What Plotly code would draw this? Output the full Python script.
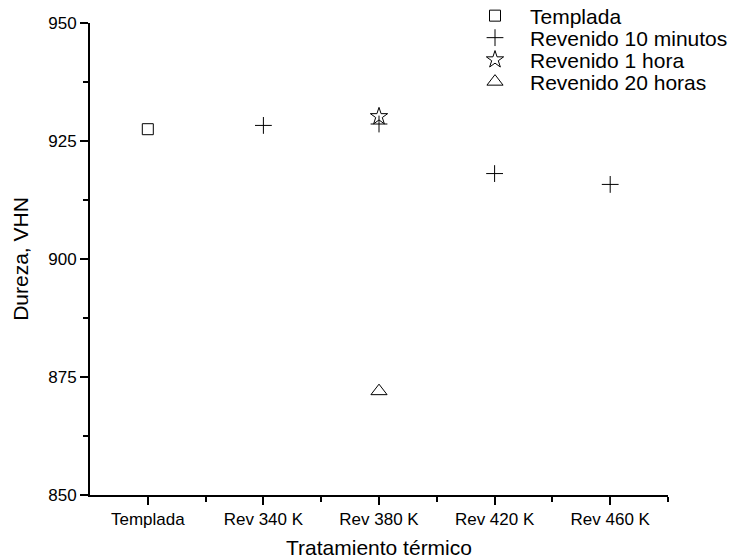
import plotly.graph_objects as go

categories = ["Templada", "Rev 340 K", "Rev 380 K", "Rev 420 K", "Rev 460 K"]
positions = [1, 2, 3, 4, 5]

templada_x = ["Templada"]
templada_y = [927.5]

rev10_x = ["Rev 340 K", "Rev 380 K", "Rev 420 K", "Rev 460 K"]
rev10_y = [928.3, 928.6, 918.1, 915.8]

rev1h_x = ["Rev 380 K"]
rev1h_y = [930.2]

rev20h_x = ["Rev 380 K"]
rev20h_y = [872.0]

pos = dict(zip(categories, positions))
font = "Liberation Sans, Arial, sans-serif"

fig = go.Figure()

series = [
    (templada_x, templada_y, "Templada", "square-open", 11, "legend"),
    (rev10_x, rev10_y, "Revenido 10 minutos", "cross-thin-open", 12, "legend2"),
    (rev1h_x, rev1h_y, "Revenido 1 hora", "star-open", 13, "legend3"),
    (rev20h_x, rev20h_y, "Revenido 20 horas", "triangle-up-open", 14, "legend4"),
]
for xs, ys, name, symbol, size, leg in series:
    fig.add_trace(go.Scatter(
        x=[pos[c] for c in xs], y=ys, mode="markers", name=name, legend=leg,
        marker=dict(symbol=symbol, size=size, color="black",
                    line=dict(color="black", width=1)),
    ))

row_y = [16, 38, 60, 82]
legends = {}
for i, ry in enumerate(row_y):
    key = "legend" if i == 0 else f"legend{i + 1}"
    legends[key] = dict(
        xref="container", yref="container",
        x=460 / 731, y=1 - ry / 560, xanchor="left", yanchor="middle",
        font=dict(size=21, family=font, color="black"),
        bgcolor="rgba(0,0,0,0)", itemsizing="trace", itemwidth=60,
    )

fig.update_layout(
    width=731, height=560,
    margin=dict(l=90, r=63, t=23, b=65, autoexpand=False),
    plot_bgcolor="white", paper_bgcolor="white",
    font=dict(family=font, color="black", size=17),
    showlegend=True,
    xaxis=dict(
        range=[0.5, 5.5], tickmode="array", tickvals=positions, ticktext=categories,
        showgrid=False, zeroline=False, showline=True, linecolor="black", linewidth=2,
        ticks="outside", ticklen=8, tickwidth=2, tickcolor="black",
        tickfont=dict(size=17), tickangle=0,
        minor=dict(tickmode="array", tickvals=[1.5, 2.5, 3.5, 4.5, 5.5],
                   ticks="outside", ticklen=5, tickwidth=2, tickcolor="black"),
        title=dict(text="Tratamiento térmico", font=dict(size=21), standoff=12),
    ),
    yaxis=dict(
        range=[850, 950], tickmode="linear", tick0=850, dtick=25,
        showgrid=False, zeroline=False, showline=True, linecolor="black", linewidth=2,
        ticks="outside", ticklen=8, tickwidth=2, tickcolor="black",
        tickfont=dict(size=17),
        minor=dict(tickmode="linear", tick0=862.5, dtick=25,
                   ticks="outside", ticklen=5, tickwidth=2, tickcolor="black"),
        title=dict(text="Dureza, VHN", font=dict(size=21), standoff=14),
    ),
    **legends,
)

fig.write_html("out.html")
